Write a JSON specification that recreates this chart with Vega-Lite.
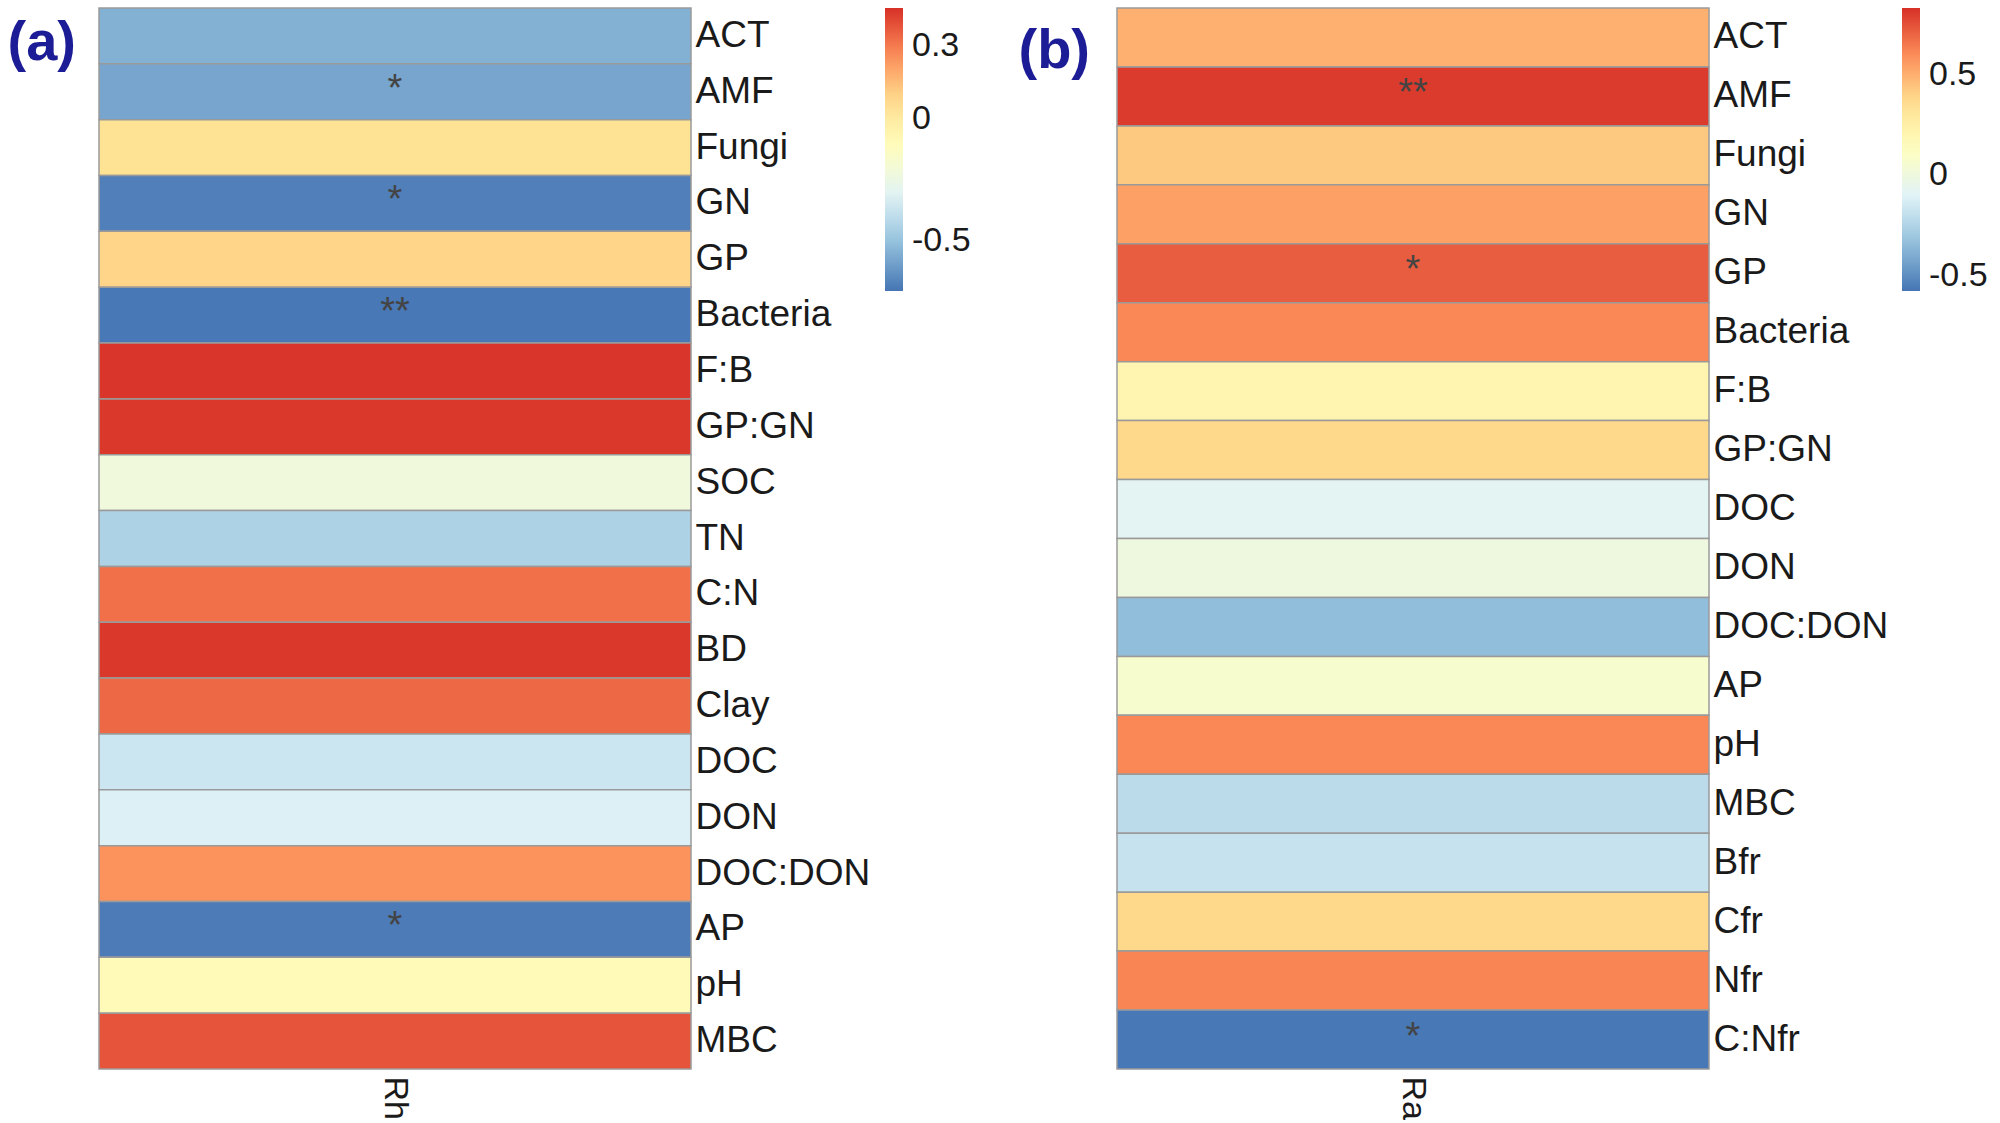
{
  "$schema": "https://vega.github.io/schema/vega-lite/v6.json",
  "padding": {"left": 7, "top": 7, "right": 0, "bottom": 0},
  "background": "white",
  "config": {"view": {"stroke": null}, "font": "Liberation Sans"},
  "spacing": 426,
  "bounds": "flush",
  "resolve": {"scale": {"color": "independent"}},
  "datasets": {
    "rh": [
      {"column": "Rh", "variable": "ACT", "value": -0.55, "sig": ""},
      {"column": "Rh", "variable": "AMF", "value": -0.58, "sig": "*"},
      {"column": "Rh", "variable": "Fungi", "value": 0.05, "sig": ""},
      {"column": "Rh", "variable": "GN", "value": -0.68, "sig": "*"},
      {"column": "Rh", "variable": "GP", "value": 0.094, "sig": ""},
      {"column": "Rh", "variable": "Bacteria", "value": -0.70, "sig": "**"},
      {"column": "Rh", "variable": "F:B", "value": 0.445, "sig": ""},
      {"column": "Rh", "variable": "GP:GN", "value": 0.44, "sig": ""},
      {"column": "Rh", "variable": "SOC", "value": -0.22, "sig": ""},
      {"column": "Rh", "variable": "TN", "value": -0.445, "sig": ""},
      {"column": "Rh", "variable": "C:N", "value": 0.322, "sig": ""},
      {"column": "Rh", "variable": "BD", "value": 0.44, "sig": ""},
      {"column": "Rh", "variable": "Clay", "value": 0.34, "sig": ""},
      {"column": "Rh", "variable": "DOC", "value": -0.368, "sig": ""},
      {"column": "Rh", "variable": "DON", "value": -0.33, "sig": ""},
      {"column": "Rh", "variable": "DOC:DON", "value": 0.25, "sig": ""},
      {"column": "Rh", "variable": "AP", "value": -0.69, "sig": "*"},
      {"column": "Rh", "variable": "pH", "value": -0.095, "sig": ""},
      {"column": "Rh", "variable": "MBC", "value": 0.378, "sig": ""}
    ],
    "ra": [
      {"column": "Ra", "variable": "ACT", "value": 0.50, "sig": ""},
      {"column": "Ra", "variable": "AMF", "value": 0.805, "sig": "**"},
      {"column": "Ra", "variable": "Fungi", "value": 0.428, "sig": ""},
      {"column": "Ra", "variable": "GN", "value": 0.545, "sig": ""},
      {"column": "Ra", "variable": "GP", "value": 0.722, "sig": "*"},
      {"column": "Ra", "variable": "Bacteria", "value": 0.61, "sig": ""},
      {"column": "Ra", "variable": "F:B", "value": 0.204, "sig": ""},
      {"column": "Ra", "variable": "GP:GN", "value": 0.383, "sig": ""},
      {"column": "Ra", "variable": "DOC", "value": -0.082, "sig": ""},
      {"column": "Ra", "variable": "DON", "value": 0.0, "sig": ""},
      {"column": "Ra", "variable": "DOC:DON", "value": -0.34, "sig": ""},
      {"column": "Ra", "variable": "AP", "value": 0.068, "sig": ""},
      {"column": "Ra", "variable": "pH", "value": 0.61, "sig": ""},
      {"column": "Ra", "variable": "MBC", "value": -0.216, "sig": ""},
      {"column": "Ra", "variable": "Bfr", "value": -0.183, "sig": ""},
      {"column": "Ra", "variable": "Cfr", "value": 0.383, "sig": ""},
      {"column": "Ra", "variable": "Nfr", "value": 0.62, "sig": ""},
      {"column": "Ra", "variable": "C:Nfr", "value": -0.565, "sig": "*"}
    ]
  },
  "hconcat": [
    {
      "width": 592,
      "height": 1061,
      "data": {"name": "rh"},
      "encoding": {
        "x": {"field": "column", "type": "nominal", "axis": {"title": null, "labelAngle": 90, "labelFontSize": 34, "labelColor": "#1a1a1a", "ticks": false, "domain": false, "labelPadding": 7}},
        "y": {"field": "variable", "type": "nominal", "sort": null, "axis": {"orient": "right", "title": "(a)", "titleAngle": 0, "titleX": -684, "titleY": 51, "titleAlign": "left", "titleBaseline": "alphabetic", "titleFontSize": 56, "titleFontWeight": "bold", "titleColor": "#1c1c96", "ticks": false, "domain": false, "labelFontSize": 37, "labelPadding": 4, "labelColor": "#1a1a1a"}}
      },
      "layer": [
        {
          "mark": {"type": "rect", "stroke": "#9a9a9a", "strokeWidth": 1.5},
          "encoding": {
            "color": {
              "field": "value", "type": "quantitative",
              "scale": {"domain": [-0.707, -0.5132, -0.3193, -0.1255, 0.0683, 0.2622, 0.456], "range": ["#4575B4", "#91BFDB", "#E0F3F8", "#FFFFBF", "#FEE090", "#FC8D59", "#D73027"], "interpolate": "rgb"},
              "legend": {"title": null, "orient": "none", "legendX": 786, "legendY": 0, "direction": "vertical", "gradientLength": 283, "gradientThickness": 18, "gradientStrokeWidth": 0, "values": [-0.5, 0, 0.3], "labelExpr": "datum.value == 0 ? '0' : (datum.value < 0 ? '-' + format(-datum.value, '.1f') : format(datum.value, '.1f'))", "labelFontSize": 34, "labelOffset": 9, "labelColor": "#1a1a1a"}
            }
          }
        },
        {
          "mark": {"type": "text", "fontSize": 38, "color": "#444444", "baseline": "middle", "dy": -2},
          "encoding": {"text": {"field": "sig", "type": "nominal"}}
        }
      ]
    },
    {
      "width": 592,
      "height": 1061,
      "data": {"name": "ra"},
      "encoding": {
        "x": {"field": "column", "type": "nominal", "axis": {"title": null, "labelAngle": 90, "labelFontSize": 34, "labelColor": "#1a1a1a", "ticks": false, "domain": false, "labelPadding": 7}},
        "y": {"field": "variable", "type": "nominal", "sort": null, "axis": {"orient": "right", "title": "(b)", "titleAngle": 0, "titleX": -691, "titleY": 59, "titleAlign": "left", "titleBaseline": "alphabetic", "titleFontSize": 56, "titleFontWeight": "bold", "titleColor": "#1c1c96", "ticks": false, "domain": false, "labelFontSize": 37, "labelPadding": 4, "labelColor": "#1a1a1a"}}
      },
      "layer": [
        {
          "mark": {"type": "rect", "stroke": "#9a9a9a", "strokeWidth": 1.5},
          "encoding": {
            "color": {
              "field": "value", "type": "quantitative",
              "scale": {"domain": [-0.575, -0.3403, -0.1057, 0.129, 0.3637, 0.5983, 0.833], "range": ["#4575B4", "#91BFDB", "#E0F3F8", "#FFFFBF", "#FEE090", "#FC8D59", "#D73027"], "interpolate": "rgb"},
              "legend": {"title": null, "orient": "none", "legendX": 785, "legendY": 0, "direction": "vertical", "gradientLength": 283, "gradientThickness": 18, "gradientStrokeWidth": 0, "values": [-0.5, 0, 0.5], "labelExpr": "datum.value == 0 ? '0' : (datum.value < 0 ? '-' + format(-datum.value, '.1f') : format(datum.value, '.1f'))", "labelFontSize": 34, "labelOffset": 9, "labelColor": "#1a1a1a"}
            }
          }
        },
        {
          "mark": {"type": "text", "fontSize": 38, "color": "#444444", "baseline": "middle", "dy": -2},
          "encoding": {"text": {"field": "sig", "type": "nominal"}}
        }
      ]
    }
  ]
}
